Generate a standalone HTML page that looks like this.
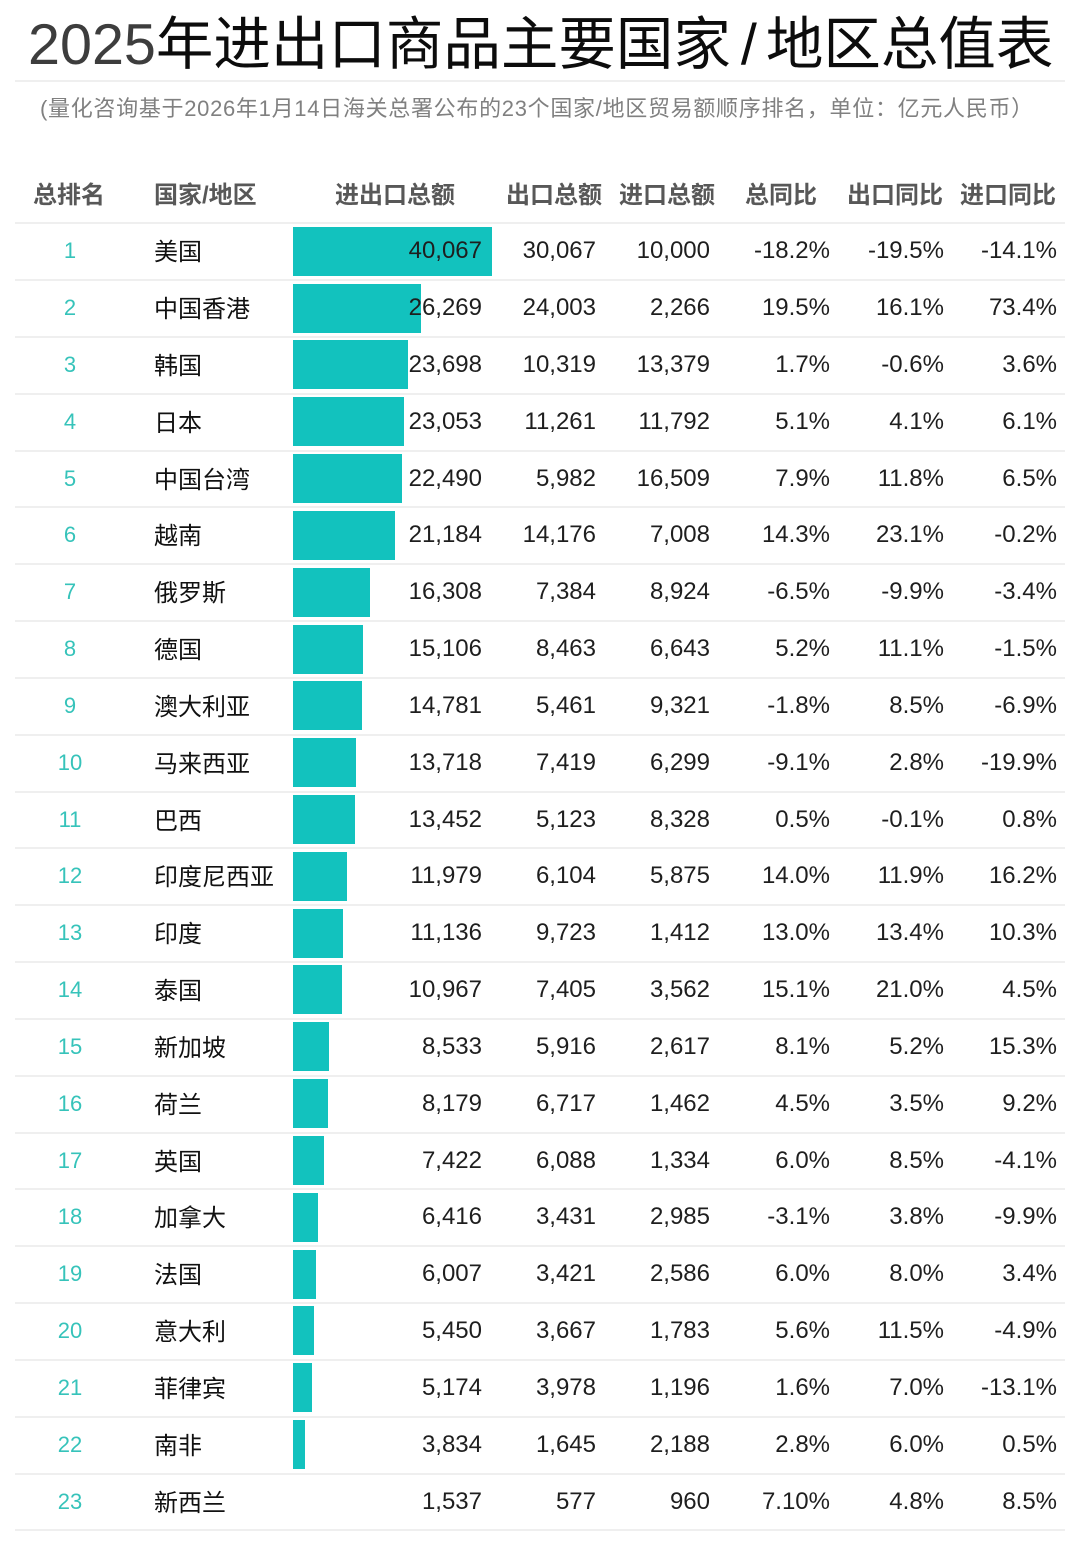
<!DOCTYPE html>
<html><head><meta charset="utf-8">
<style>
html,body{margin:0;padding:0;background:#fff;}
body{width:1080px;height:1547px;position:relative;overflow:hidden;font-family:"Liberation Sans","Noto Sans CJK SC",sans-serif;}
.title{position:absolute;left:28px;top:17px;font-size:57.5px;line-height:57px;color:#0c0c0c;white-space:nowrap;}
.title .d{color:#3d3d3d;}
.title .s{margin:0 9px 0 10px;}
.sub{position:absolute;left:40px;top:94px;font-size:22px;line-height:30px;color:#808080;white-space:nowrap;letter-spacing:0.7px;}
.ln{position:absolute;left:15px;width:1050px;height:2px;background:#efefef;}
.h{position:absolute;top:176px;font-size:24px;line-height:40px;font-weight:bold;color:#585858;white-space:nowrap;}
.r{position:absolute;left:0;width:1080px;height:56.83px;line-height:56.83px;font-size:24px;color:#1e1e1e;}
.r span{position:absolute;top:0;white-space:nowrap;}
.r .bar{position:absolute;left:293.3px;top:3.4px;height:49px;background:#12c2be;}
.r .rk{left:40px;width:60px;text-align:center;color:#36c3ba;font-size:22px;}
.r .ct{left:154px;top:2px;color:#111;}
.c1{right:598px;}
.c2{right:484px;}
.c3{right:370px;}
.c4{right:250px;}
.c5{right:136px;}
.c6{right:23px;}
</style></head><body>
<div class="title"><span class="d">2025</span>年进出口商品主要国家<span class="s">/</span>地区总值表</div>
<div class="ln" style="top:80px"></div>
<div class="sub">(量化咨询基于2026年1月14日海关总署公布的23个国家/地区贸易额顺序排名，单位：亿元人民币）</div>

<div class="h" style="left:33px">总排名</div>
<div class="h" style="left:154px">国家/地区</div>
<div class="h" style="left:335px">进出口总额</div>
<div class="h" style="left:506px">出口总额</div>
<div class="h" style="left:619px">进口总额</div>
<div class="h" style="left:745px">总同比</div>
<div class="h" style="left:847px">出口同比</div>
<div class="h" style="left:960px">进口同比</div>

<div class="ln" style="top:222.3px"></div>
<div class="ln" style="top:279.13px"></div>
<div class="ln" style="top:335.96px"></div>
<div class="ln" style="top:392.79px"></div>
<div class="ln" style="top:449.62px"></div>
<div class="ln" style="top:506.45px"></div>
<div class="ln" style="top:563.28px"></div>
<div class="ln" style="top:620.11px"></div>
<div class="ln" style="top:676.94px"></div>
<div class="ln" style="top:733.77px"></div>
<div class="ln" style="top:790.6px"></div>
<div class="ln" style="top:847.43px"></div>
<div class="ln" style="top:904.26px"></div>
<div class="ln" style="top:961.09px"></div>
<div class="ln" style="top:1017.92px"></div>
<div class="ln" style="top:1074.75px"></div>
<div class="ln" style="top:1131.58px"></div>
<div class="ln" style="top:1188.41px"></div>
<div class="ln" style="top:1245.24px"></div>
<div class="ln" style="top:1302.07px"></div>
<div class="ln" style="top:1358.9px"></div>
<div class="ln" style="top:1415.73px"></div>
<div class="ln" style="top:1472.56px"></div>
<div class="ln" style="top:1529.39px"></div>

<div class="r" style="top:223.3px"><div class="bar" style="width:199px"></div><span class="rk">1</span><span class="ct">美国</span><span class="c1">40,067</span><span class="c2">30,067</span><span class="c3">10,000</span><span class="c4">-18.2%</span><span class="c5">-19.5%</span><span class="c6">-14.1%</span></div>
<div class="r" style="top:280.13px"><div class="bar" style="width:127.74px"></div><span class="rk">2</span><span class="ct">中国香港</span><span class="c1">26,269</span><span class="c2">24,003</span><span class="c3">2,266</span><span class="c4">19.5%</span><span class="c5">16.1%</span><span class="c6">73.4%</span></div>
<div class="r" style="top:336.96px"><div class="bar" style="width:114.46px"></div><span class="rk">3</span><span class="ct">韩国</span><span class="c1">23,698</span><span class="c2">10,319</span><span class="c3">13,379</span><span class="c4">1.7%</span><span class="c5">-0.6%</span><span class="c6">3.6%</span></div>
<div class="r" style="top:393.79px"><div class="bar" style="width:111.13px"></div><span class="rk">4</span><span class="ct">日本</span><span class="c1">23,053</span><span class="c2">11,261</span><span class="c3">11,792</span><span class="c4">5.1%</span><span class="c5">4.1%</span><span class="c6">6.1%</span></div>
<div class="r" style="top:450.62px"><div class="bar" style="width:108.22px"></div><span class="rk">5</span><span class="ct">中国台湾</span><span class="c1">22,490</span><span class="c2">5,982</span><span class="c3">16,509</span><span class="c4">7.9%</span><span class="c5">11.8%</span><span class="c6">6.5%</span></div>
<div class="r" style="top:507.45px"><div class="bar" style="width:101.47px"></div><span class="rk">6</span><span class="ct">越南</span><span class="c1">21,184</span><span class="c2">14,176</span><span class="c3">7,008</span><span class="c4">14.3%</span><span class="c5">23.1%</span><span class="c6">-0.2%</span></div>
<div class="r" style="top:564.28px"><div class="bar" style="width:76.29px"></div><span class="rk">7</span><span class="ct">俄罗斯</span><span class="c1">16,308</span><span class="c2">7,384</span><span class="c3">8,924</span><span class="c4">-6.5%</span><span class="c5">-9.9%</span><span class="c6">-3.4%</span></div>
<div class="r" style="top:621.11px"><div class="bar" style="width:70.08px"></div><span class="rk">8</span><span class="ct">德国</span><span class="c1">15,106</span><span class="c2">8,463</span><span class="c3">6,643</span><span class="c4">5.2%</span><span class="c5">11.1%</span><span class="c6">-1.5%</span></div>
<div class="r" style="top:677.94px"><div class="bar" style="width:68.40px"></div><span class="rk">9</span><span class="ct">澳大利亚</span><span class="c1">14,781</span><span class="c2">5,461</span><span class="c3">9,321</span><span class="c4">-1.8%</span><span class="c5">8.5%</span><span class="c6">-6.9%</span></div>
<div class="r" style="top:734.77px"><div class="bar" style="width:62.91px"></div><span class="rk">10</span><span class="ct">马来西亚</span><span class="c1">13,718</span><span class="c2">7,419</span><span class="c3">6,299</span><span class="c4">-9.1%</span><span class="c5">2.8%</span><span class="c6">-19.9%</span></div>
<div class="r" style="top:791.6px"><div class="bar" style="width:61.54px"></div><span class="rk">11</span><span class="ct">巴西</span><span class="c1">13,452</span><span class="c2">5,123</span><span class="c3">8,328</span><span class="c4">0.5%</span><span class="c5">-0.1%</span><span class="c6">0.8%</span></div>
<div class="r" style="top:848.43px"><div class="bar" style="width:53.93px"></div><span class="rk">12</span><span class="ct">印度尼西亚</span><span class="c1">11,979</span><span class="c2">6,104</span><span class="c3">5,875</span><span class="c4">14.0%</span><span class="c5">11.9%</span><span class="c6">16.2%</span></div>
<div class="r" style="top:905.26px"><div class="bar" style="width:49.58px"></div><span class="rk">13</span><span class="ct">印度</span><span class="c1">11,136</span><span class="c2">9,723</span><span class="c3">1,412</span><span class="c4">13.0%</span><span class="c5">13.4%</span><span class="c6">10.3%</span></div>
<div class="r" style="top:962.09px"><div class="bar" style="width:48.70px"></div><span class="rk">14</span><span class="ct">泰国</span><span class="c1">10,967</span><span class="c2">7,405</span><span class="c3">3,562</span><span class="c4">15.1%</span><span class="c5">21.0%</span><span class="c6">4.5%</span></div>
<div class="r" style="top:1018.92px"><div class="bar" style="width:36.13px"></div><span class="rk">15</span><span class="ct">新加坡</span><span class="c1">8,533</span><span class="c2">5,916</span><span class="c3">2,617</span><span class="c4">8.1%</span><span class="c5">5.2%</span><span class="c6">15.3%</span></div>
<div class="r" style="top:1075.75px"><div class="bar" style="width:34.31px"></div><span class="rk">16</span><span class="ct">荷兰</span><span class="c1">8,179</span><span class="c2">6,717</span><span class="c3">1,462</span><span class="c4">4.5%</span><span class="c5">3.5%</span><span class="c6">9.2%</span></div>
<div class="r" style="top:1132.58px"><div class="bar" style="width:30.40px"></div><span class="rk">17</span><span class="ct">英国</span><span class="c1">7,422</span><span class="c2">6,088</span><span class="c3">1,334</span><span class="c4">6.0%</span><span class="c5">8.5%</span><span class="c6">-4.1%</span></div>
<div class="r" style="top:1189.41px"><div class="bar" style="width:25.20px"></div><span class="rk">18</span><span class="ct">加拿大</span><span class="c1">6,416</span><span class="c2">3,431</span><span class="c3">2,985</span><span class="c4">-3.1%</span><span class="c5">3.8%</span><span class="c6">-9.9%</span></div>
<div class="r" style="top:1246.24px"><div class="bar" style="width:23.09px"></div><span class="rk">19</span><span class="ct">法国</span><span class="c1">6,007</span><span class="c2">3,421</span><span class="c3">2,586</span><span class="c4">6.0%</span><span class="c5">8.0%</span><span class="c6">3.4%</span></div>
<div class="r" style="top:1303.07px"><div class="bar" style="width:20.21px"></div><span class="rk">20</span><span class="ct">意大利</span><span class="c1">5,450</span><span class="c2">3,667</span><span class="c3">1,783</span><span class="c4">5.6%</span><span class="c5">11.5%</span><span class="c6">-4.9%</span></div>
<div class="r" style="top:1359.9px"><div class="bar" style="width:18.78px"></div><span class="rk">21</span><span class="ct">菲律宾</span><span class="c1">5,174</span><span class="c2">3,978</span><span class="c3">1,196</span><span class="c4">1.6%</span><span class="c5">7.0%</span><span class="c6">-13.1%</span></div>
<div class="r" style="top:1416.73px"><div class="bar" style="width:11.86px"></div><span class="rk">22</span><span class="ct">南非</span><span class="c1">3,834</span><span class="c2">1,645</span><span class="c3">2,188</span><span class="c4">2.8%</span><span class="c5">6.0%</span><span class="c6">0.5%</span></div>
<div class="r" style="top:1473.56px"><span class="rk">23</span><span class="ct">新西兰</span><span class="c1">1,537</span><span class="c2">577</span><span class="c3">960</span><span class="c4">7.10%</span><span class="c5">4.8%</span><span class="c6">8.5%</span></div>
</body></html>
